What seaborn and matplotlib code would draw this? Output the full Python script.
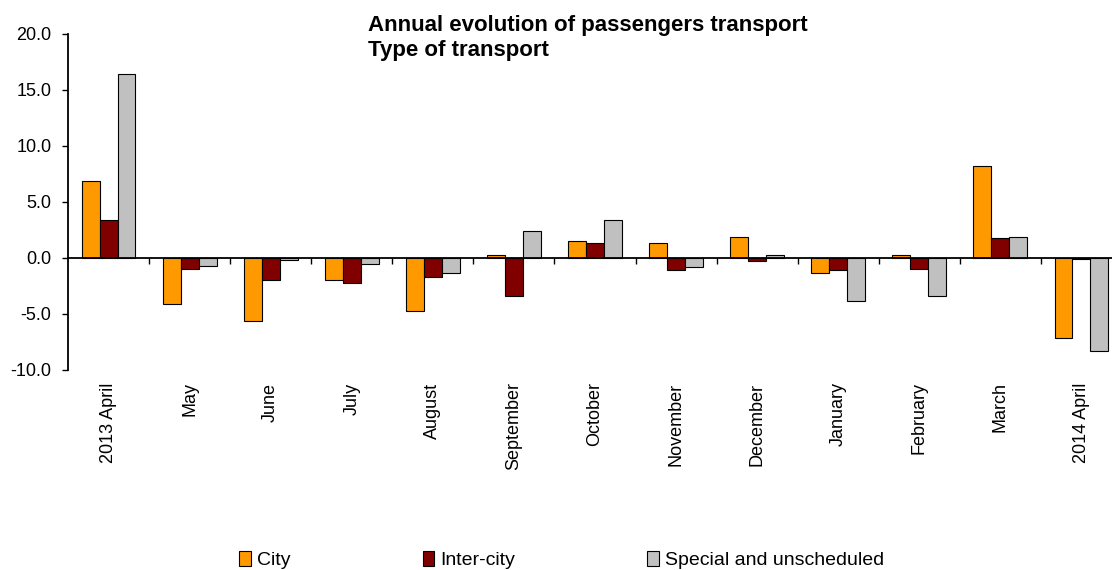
import numpy as np
import pandas as pd
import matplotlib
matplotlib.use('Agg')
import matplotlib.pyplot as plt
from matplotlib.ticker import FormatStrFormatter
import seaborn as sns

# data (annual change, %)
months = ['2013 April', 'May', 'June', 'July', 'August', 'September', 'October',
          'November', 'December', 'January', 'February', 'March', '2014 April']
city = [6.9, -4.1, -5.6, -2.0, -4.7, 0.3, 1.5, 1.3, 1.9, -1.3, 0.3, 8.2, -7.1]
inter_city = [3.4, -1.0, -2.0, -2.2, -1.7, -3.4, 1.3, -1.1, -0.3, -1.1, -1.0, 1.8, -0.1]
special = [16.4, -0.7, -0.2, -0.5, -1.3, 2.4, 3.4, -0.8, 0.3, -3.8, -3.4, 1.9, -8.3]
series_names = ['City', 'Inter-city', 'Special and unscheduled']
colors = ['#FF9900', '#800000', '#C0C0C0']

df = pd.DataFrame({'month': months, series_names[0]: city,
                   series_names[1]: inter_city, series_names[2]: special})
df = df.melt(id_vars='month', var_name='type', value_name='value')

sns.set_style('white')
plt.rcParams['font.family'] = ['Liberation Sans', 'DejaVu Sans']
plt.rcParams['text.color'] = 'black'
plt.rcParams['xtick.color'] = 'black'
plt.rcParams['ytick.color'] = 'black'

fig = plt.figure(figsize=(11.12, 5.70), dpi=100)
ax = fig.add_axes([68 / 1112, 200 / 570, 1054 / 1112, 336 / 570])

sns.barplot(data=df, x='month', y='value', hue='type', order=months,
            hue_order=series_names, palette=colors, saturation=1, width=0.665, gap=0,
            edgecolor='black', linewidth=0.8, errorbar=None, ax=ax)

ax.set_xlim(-0.5, 12.5)
ax.set_ylim(-10, 20)
ax.set_yticks(np.arange(-10, 21, 5))
ax.yaxis.set_major_formatter(FormatStrFormatter('%.1f'))
ax.tick_params(axis='y', direction='out', length=4, width=1, pad=8,
               labelsize=13, left=True, colors='black')
ax.set_xlabel('')
ax.set_ylabel('')

# x axis line sits at zero, ticks between the months
for s in ['top', 'right']:
    ax.spines[s].set_visible(False)
ax.spines['left'].set_color('black')
ax.spines['left'].set_linewidth(1.3)
ax.spines['bottom'].set_position(('data', 0))
ax.spines['bottom'].set_color('black')
ax.spines['bottom'].set_linewidth(1.3)
ax.set_xticks(np.arange(0.5, 12, 1))
ax.set_xticklabels([])
ax.tick_params(axis='x', direction='out', length=4, width=1, bottom=True, colors='black')

# month names below the plot area
sec = ax.secondary_xaxis('bottom')
sec.set_xticks(range(len(months)))
sec.set_xticklabels(months, rotation=90, va='top', fontsize=13, color='black')
sec.tick_params(length=0, pad=9)
sec.spines['bottom'].set_visible(False)

fig.text(368 / 1112, 1 - 15 / 570,
         'Annual evolution of passengers transport\nType of transport',
         ha='left', va='top', fontsize=16, fontweight='bold', linespacing=1.25,
         color='black')

sns.move_legend(ax, 'center', bbox_to_anchor=(0.505, 1 - 560 / 570),
                bbox_transform=fig.transFigure, ncol=3, frameon=False, title=None,
                fontsize=14, handlelength=0.6, handleheight=0.8, handletextpad=0.3,
                columnspacing=6.8)

fig.savefig('out.png', dpi=100)
